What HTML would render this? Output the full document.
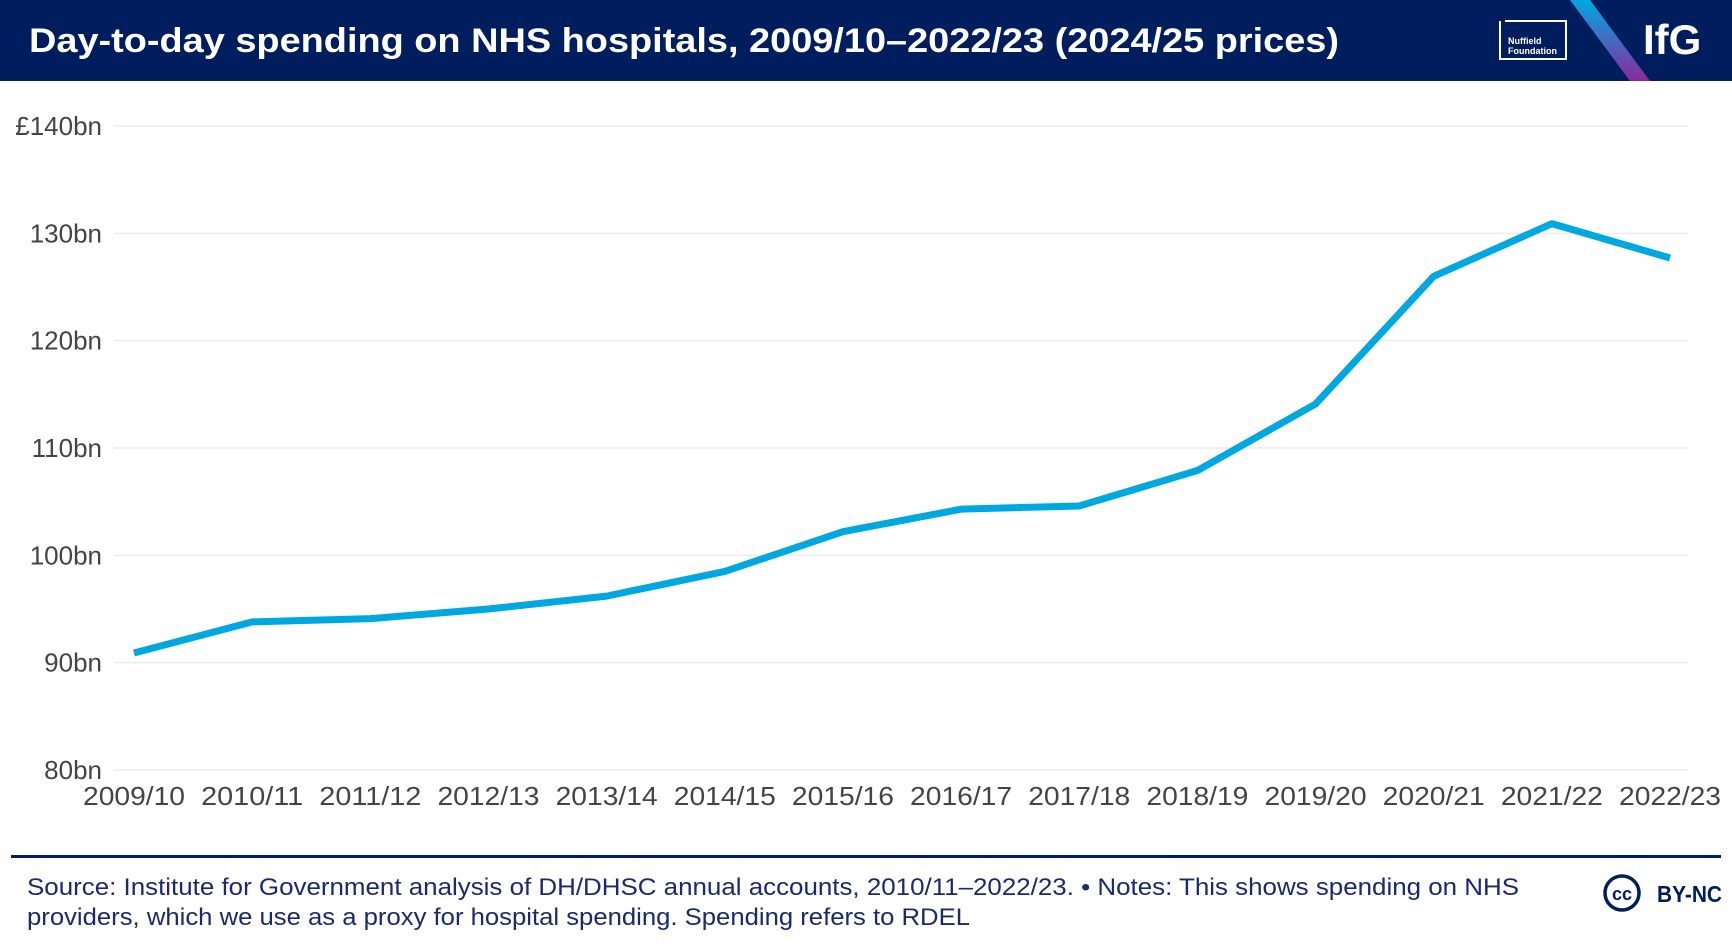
<!DOCTYPE html>
<html><head><meta charset="utf-8"><style>
html,body{margin:0;padding:0;background:#fff;}
svg{display:block;font-family:"Liberation Sans",sans-serif;}
</style></head><body>
<svg id="chart" width="1732" height="946" viewBox="0 0 1732 946">
<defs><linearGradient id="g" x1="0" y1="0" x2="0" y2="1"><stop offset="0" stop-color="#00a8e1"/><stop offset="1" stop-color="#8a2a9c"/></linearGradient></defs>
<rect x="0" y="0" width="1732" height="81" fill="#001d5e"/>
<text x="29" y="52" fill="#fff" font-size="34" font-weight="bold" textLength="1310" lengthAdjust="spacingAndGlyphs">Day-to-day spending on NHS hospitals, 2009/10–2022/23 (2024/25 prices)</text>
<g>
<path d="M1500 21 V59 H1566 V21 H1505" fill="none" stroke="#fff" stroke-width="2"/>
<text x="1508" y="44" fill="#fff" font-size="9" font-weight="bold">Nuffield</text>
<text x="1508" y="54" fill="#fff" font-size="9" font-weight="bold">Foundation</text>
</g>
<polygon points="1570,0 1590,0 1650,81 1630,81" fill="url(#g)"/>
<text x="1643" y="54" fill="#fff" font-size="42" font-weight="bold">IfG</text>
<g id="grid"></g>
<g id="yticks"></g>
<g id="xticks"></g>
<path id="line" fill="none" stroke="#00a8e1" stroke-width="7" stroke-linejoin="round"/>
<rect x="11" y="855" width="1710" height="3" fill="#001d5e"/>
<text x="27" y="895" fill="#1a2a6c" font-size="24" textLength="1492" lengthAdjust="spacingAndGlyphs">Source: Institute for Government analysis of DH/DHSC annual accounts, 2010/11–2022/23. • Notes: This shows spending on NHS</text>
<text x="27" y="925" fill="#1a2a6c" font-size="24" textLength="943" lengthAdjust="spacingAndGlyphs">providers, which we use as a proxy for hospital spending. Spending refers to RDEL</text>
<g>
<circle cx="1622" cy="893" r="17" fill="none" stroke="#001d5e" stroke-width="3.5"/>
<text x="1622" y="900" text-anchor="middle" fill="#001d5e" font-size="18" font-weight="bold">cc</text>
<text x="1657" y="902" fill="#001d5e" font-size="23" font-weight="bold" textLength="65" lengthAdjust="spacingAndGlyphs">BY-NC</text>
</g>
</svg>
<script>
const categories = ["2009/10","2010/11","2011/12","2012/13","2013/14","2014/15","2015/16","2016/17","2017/18","2018/19","2019/20","2020/21","2021/22","2022/23"];
const spending = [90.9,93.8,94.1,95.0,96.2,98.5,102.2,104.3,104.6,107.9,114.1,126.0,130.9,127.7];
const yTicks = [80,90,100,110,120,130,140];
const yTickLabels = ["80bn","90bn","100bn","110bn","120bn","130bn","£140bn"];
const NS="http://www.w3.org/2000/svg";
function x(i){return 134+i*(1670-134)/(categories.length-1);}
function y(v){return 770-(v-80)*(770-126)/60;}
function mk(tag,attrs,parent,txt){const e=document.createElementNS(NS,tag);for(const k in attrs)e.setAttribute(k,attrs[k]);if(txt!==undefined)e.textContent=txt;parent.appendChild(e);return e;}
const grid=document.getElementById('grid'),yt=document.getElementById('yticks'),xt=document.getElementById('xticks');
yTicks.forEach((t,i)=>{
 const l=mk('line',{x1:114,x2:1688,y1:y(t),y2:y(t),stroke:'#ececec','stroke-width':1.5},grid);
 
 
 const tx=mk('text',{x:102,y:y(t)+9,'text-anchor':'end','font-size':26,fill:'#444'},yt,yTickLabels[i]);
 
 
});
categories.forEach((c,i)=>{
 const tx=mk('text',{x:x(i),y:805,'text-anchor':'middle','font-size':26,fill:'#444',textLength:102,lengthAdjust:'spacingAndGlyphs'},xt,c);
 
 
});
document.getElementById('line').setAttribute('d',spending.map((v,i)=>(i?'L':'M')+x(i)+' '+y(v)).join(' '));
</script>
</body></html>
